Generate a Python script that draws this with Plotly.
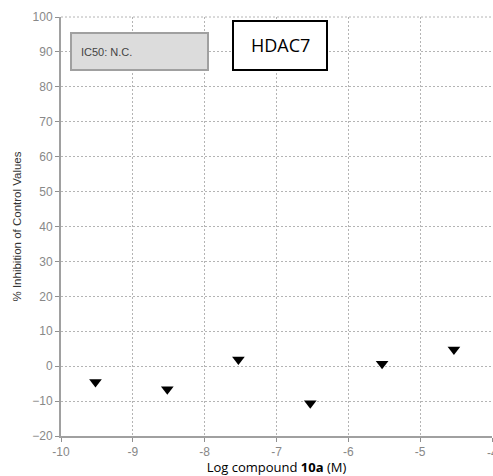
import plotly.graph_objects as go

log_conc = [-9.52, -8.52, -7.53, -6.53, -5.53, -4.53]
inhibition = [-4.5, -6.6, 1.9, -10.6, 0.7, 4.8]
x_ticks = [-10, -9, -8, -7, -6, -5, -4]
y_ticks = [-20, -10, 0, 10, 20, 30, 40, 50, 60, 70, 80, 90, 100]

fig = go.Figure()
fig.add_trace(go.Scatter(
    x=log_conc, y=inhibition, mode="markers",
    marker=dict(symbol="triangle-down", size=11, color="black"),
    showlegend=False,
))

fig.update_layout(
    width=493, height=476,
    margin=dict(l=61, r=1, t=17, b=40),
    paper_bgcolor="white", plot_bgcolor="white",
    font=dict(family="Liberation Sans, Arial, sans-serif", color="#888888", size=12),
    xaxis=dict(
        range=[-10, -4], tickvals=x_ticks, ticktext=[str(v) for v in x_ticks],
        showgrid=True, gridcolor="#b4b4b4", griddash="2px,2px", gridwidth=1,
        showline=True, linecolor="#a0a0a0", linewidth=2,
        ticks="outside", ticklen=4, tickcolor="#909090",
        zeroline=False,
        title=dict(text="Log compound <b>10a</b> (M)",
                   font=dict(family="Open Sans, Liberation Sans, sans-serif", size=13, color="black"),
                   standoff=2),
    ),
    yaxis=dict(
        range=[-20, 100], tickvals=y_ticks,
        showgrid=True, gridcolor="#b4b4b4", griddash="2px,2px", gridwidth=1,
        showline=True, linecolor="#a0a0a0", linewidth=2,
        ticks="outside", ticklen=4, tickcolor="#909090",
        zeroline=False,
        title=dict(text="% Inhibition of Control Values",
                   font=dict(family="Liberation Sans, Arial, sans-serif", size=11.5, color="#333333"),
                   standoff=8),
    ),
    shapes=[
        dict(type="line", xref="paper", yref="paper", x0=0, x1=1, y0=1, y1=1,
             line=dict(color="#b4b4b4", width=1, dash="2px,2px")),
        dict(type="rect", xref="paper", yref="paper",
             x0=(71 - 61) / 431, x1=(208 - 61) / 431,
             y0=(436 - 70) / 419, y1=(436 - 33) / 419,
             fillcolor="#dcdcdc", line=dict(color="#a0a0a0", width=2)),
        dict(type="rect", xref="paper", yref="paper",
             x0=(233 - 61) / 431, x1=(327 - 61) / 431,
             y0=(436 - 70) / 419, y1=(436 - 21) / 419,
             fillcolor="white", line=dict(color="black", width=2)),
    ],
    annotations=[
        dict(text="IC50: N.C.", xref="paper", yref="paper",
             x=(79 - 61) / 431, y=(436 - 52) / 419, xanchor="left", yanchor="middle",
             showarrow=False, font=dict(size=11, color="#444444",
                                        family="Liberation Sans, Arial, sans-serif")),
        dict(text="HDAC7", xref="paper", yref="paper",
             x=(280 - 61) / 431, y=(436 - 45) / 419, xanchor="center", yanchor="middle",
             showarrow=False, font=dict(size=18, color="black",
                                        family="Open Sans, Liberation Sans, sans-serif")),
        dict(text=str(x_ticks[-1]), xref="x", yref="paper",
             x=x_ticks[-1], y=0, yshift=-17, xanchor="center", yanchor="middle",
             showarrow=False, font=dict(size=12, color="#888888",
                                        family="Liberation Sans, Arial, sans-serif")),
    ],
)

fig.write_html("out.html")
